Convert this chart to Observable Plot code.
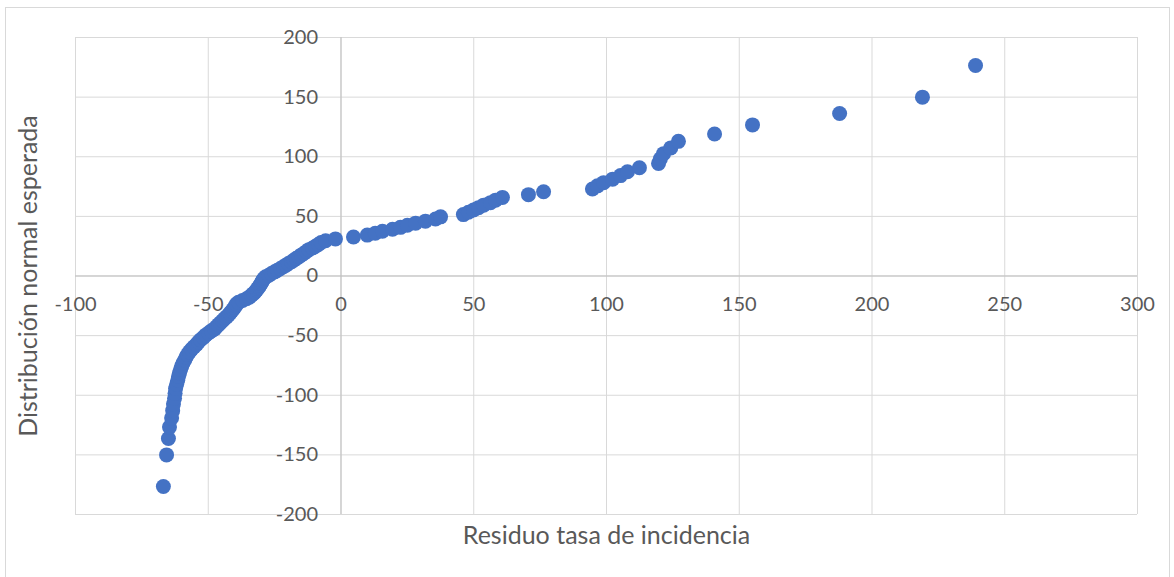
<!DOCTYPE html>
<html>
<head>
<meta charset="utf-8">
<script src="https://cdn.jsdelivr.net/npm/d3@7"></script>
<script src="https://cdn.jsdelivr.net/npm/@observablehq/plot@0.6"></script>
<style>
  html, body { margin: 0; padding: 0; background: #fff; }
  #wrap { position: relative; width: 1174px; height: 577px; overflow: hidden; }
  #border { position: absolute; left: 5px; top: 7px; width: 1163px; height: 600px; border: 1px solid #d9d9d9; pointer-events: none; }
</style>
</head>
<body>
<div id="wrap"><div id="border"></div></div>
<script>
// Residuo tasa de incidencia (x), sorted
const residuo = [
  -66.9, -65.7, -65.0, -64.6, -63.8, -63.4, -63.1, -62.7, -62.5, -62.3,
  -61.9, -61.5, -61.2, -60.8, -60.4, -60.0, -59.5, -58.9, -58.4, -57.8,
  -57.1, -56.3, -55.4, -54.4, -53.7, -52.9, -51.8, -51.0, -49.9, -48.8,
  -47.6, -46.9, -46.1, -45.4, -44.6, -43.9, -43.1, -42.4, -41.8, -41.2,
  -40.7, -40.1, -39.7, -39.4, -38.6, -37.1, -35.6, -34.5, -33.7, -33.0,
  -32.4, -31.8, -31.4, -30.9, -30.5, -30.1, -29.8, -29.4, -29.0, -28.4,
  -27.1, -26.2, -25.0, -23.9, -22.8, -21.7, -20.7, -19.8, -18.6, -17.7,
  -16.8, -15.8, -14.9, -13.9, -13.0, -12.1, -10.7, -9.6, -8.5, -7.5,
  -5.8, -2.1, 4.7, 9.9, 12.9, 15.6, 19.4, 22.4, 25.0, 28.1,
  31.8, 35.6, 37.5, 46.1, 48.0, 49.9, 51.8, 53.7, 56.3, 58.2,
  60.8, 70.6, 76.3, 94.7, 96.6, 98.9, 102.3, 105.3, 107.9, 112.4,
  119.6, 120.3, 121.5, 124.2, 127.1, 140.7, 155.0, 187.8, 219.0, 239.0
];
// Distribución normal esperada (y)
const esperada = [
  -176.5, -150.0, -136.3, -126.7, -119.1, -112.9, -107.4, -102.6, -98.3, -94.4,
  -90.8, -87.4, -84.2, -81.2, -78.3, -75.6, -73.0, -70.6, -68.2, -65.9,
  -63.6, -61.5, -59.4, -57.3, -55.3, -53.4, -51.5, -49.6, -47.8, -46.0,
  -44.3, -42.5, -40.8, -39.2, -37.5, -35.9, -34.3, -32.7, -31.1, -29.6,
  -28.1, -26.5, -25.0, -23.5, -22.1, -20.6, -19.1, -17.7, -16.2, -14.8,
  -13.4, -11.9, -10.5, -9.1, -7.7, -6.3, -4.9, -3.5, -2.1, -0.7,
  0.7, 2.1, 3.5, 4.9, 6.3, 7.7, 9.1, 10.5, 11.9, 13.4,
  14.8, 16.2, 17.7, 19.1, 20.6, 22.1, 23.5, 25.0, 26.5, 28.1,
  29.6, 31.1, 32.7, 34.3, 35.9, 37.5, 39.2, 40.8, 42.5, 44.3,
  46.0, 47.8, 49.6, 51.5, 53.4, 55.3, 57.3, 59.4, 61.5, 63.6,
  65.9, 68.2, 70.6, 73.0, 75.6, 78.3, 81.2, 84.2, 87.4, 90.8,
  94.4, 98.3, 102.6, 107.4, 112.9, 119.1, 126.7, 136.3, 150.0, 176.5
];
const xTicks = [-100, -50, 0, 50, 100, 150, 200, 250, 300];
const yTicks = [-200, -150, -100, -50, 0, 50, 100, 150, 200];
const xTitle = "Residuo tasa de incidencia";
const yTitle = "Distribución normal esperada";

const data = residuo.map((r, i) => ({r, e: esperada[i]}));
const font = "Lato, 'Open Sans', sans-serif";
const labelColor = "#595959";

const chart = Plot.plot({
  width: 1174,
  height: 577,
  marginLeft: 75,
  marginRight: 37,
  marginTop: 37,
  marginBottom: 63,
  style: {fontFamily: font, background: "transparent"},
  x: {domain: [-100, 300], axis: null},
  y: {domain: [-200, 200], axis: null},
  marks: [
    Plot.gridX(xTicks, {stroke: "#d9d9d9", strokeOpacity: 1}),
    Plot.gridY(yTicks, {stroke: "#d9d9d9", strokeOpacity: 1}),
    Plot.ruleX([0], {stroke: "#bfbfbf"}),
    Plot.ruleY([0], {stroke: "#bfbfbf"}),
    Plot.text(yTicks, {x: 0, y: d => d, text: d => String(d), textAnchor: "end", dx: -23, fontSize: 20, fill: labelColor}),
    Plot.text(xTicks, {x: d => d, y: 0, text: d => String(d), dy: 29, fontSize: 20, fill: labelColor}),
    Plot.dot(data, {x: "r", y: "e", r: 7.5, fill: "#4472C4"}),
    Plot.text([xTitle], {frameAnchor: "bottom", text: d => d, textAnchor: "middle", lineAnchor: "middle", dy: 21, fontSize: 25, fill: labelColor}),
    Plot.text([yTitle], {frameAnchor: "left", text: d => d, textAnchor: "middle", lineAnchor: "middle", rotate: -90, dx: -47, fontSize: 25, fill: labelColor})
  ]
});
chart.style.position = "absolute";
chart.style.left = "0";
chart.style.top = "0";
document.getElementById("wrap").appendChild(chart);
</script>
</body>
</html>
